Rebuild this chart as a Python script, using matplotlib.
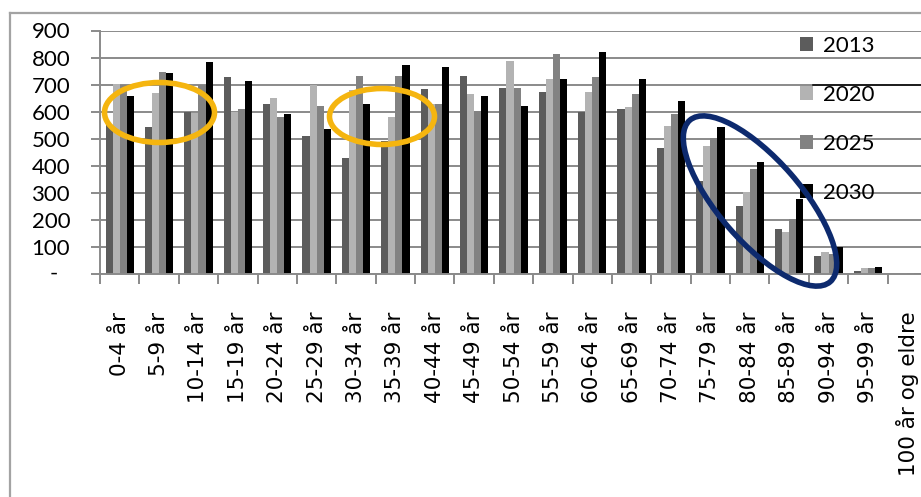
import matplotlib
matplotlib.use("Agg")
import matplotlib.pyplot as plt
from matplotlib.patches import Ellipse
from matplotlib.lines import Line2D
from matplotlib.transforms import Affine2D
import numpy as np

categories = ["0-4 år", "5-9 år", "10-14 år", "15-19 år", "20-24 år", "25-29 år",
              "30-34 år", "35-39 år", "40-44 år", "45-49 år", "50-54 år", "55-59 år",
              "60-64 år", "65-69 år", "70-74 år", "75-79 år", "80-84 år", "85-89 år",
              "90-94 år", "95-99 år", "100 år og eldre"]
v2013 = [550, 543, 600, 727, 627, 511, 428, 490, 683, 733, 689, 672, 600, 610, 467, 344, 251, 165, 67, 12, 1]
v2020 = [702, 668, 595, 600, 652, 699, 680, 579, 630, 665, 787, 720, 672, 619, 548, 473, 304, 157, 82, 21, 2]
v2025 = [700, 748, 699, 610, 582, 621, 730, 730, 628, 604, 689, 813, 727, 665, 590, 503, 389, 205, 74, 21, 2]
v2030 = [658, 742, 783, 713, 590, 536, 630, 773, 766, 659, 621, 721, 820, 720, 641, 544, 414, 276, 100, 25, 3]
series_names = ["2013", "2020", "2025", "2030"]
yticks = [0, 100, 200, 300, 400, 500, 600, 700, 800, 900]
ylabels = ["-", "100", "200", "300", "400", "500", "600", "700", "800", "900"]

W, H = 921, 497
fig = plt.figure(figsize=(W / 100, H / 100), dpi=100)
fig.patch.set_facecolor("white")
px = Affine2D().scale(1 / W, -1 / H).translate(0, 1) + fig.transFigure

ax = fig.add_axes([100 / W, 1 - 274 / H, 827 / W, (274 - 30.5) / H])
x = np.arange(len(categories))
bw = 0.18
colors = ["#5c5c5c", "#b3b3b3", "#828282", "#000000"]
handles = []
for i, (name, vals, col) in enumerate(zip(series_names, [v2013, v2020, v2025, v2030], colors)):
    b = ax.bar(x + (i - 1.5) * bw, vals, width=bw, color=col, label=name, zorder=2, linewidth=0)
    handles.append(b)

gc = "#8a8a8a"
ax.set_xlim(-0.5, len(categories) - 0.5)
ax.set_ylim(0, 900)
ax.set_yticks(yticks)
ax.set_yticklabels([""] + ylabels[1:], fontfamily="Lato", fontsize=16)
ax.text(-46 / 827, 0, ylabels[0], transform=ax.get_yaxis_transform(), ha="center", va="center",
        fontfamily="Lato", fontsize=16)
ax.yaxis.grid(True, color=gc, lw=1.4)
ax.set_axisbelow(True)
ax.set_xticks(x)
ax.set_xticklabels(categories, rotation=90, fontsize=15.5, fontfamily="DejaVu Sans")
ax.tick_params(axis="x", which="major", length=0, pad=27)
ax.set_xticks(np.arange(len(categories) + 1) - 0.5, minor=True)
ax.tick_params(axis="x", which="minor", length=7, color=gc, width=1.4, direction="out")
ax.tick_params(axis="y", length=6.5, color=gc, width=1.4, pad=15)
for s in ["top", "right"]:
    ax.spines[s].set_visible(False)
for s in ["left", "bottom"]:
    ax.spines[s].set_color(gc)
    ax.spines[s].set_linewidth(1.4)

leg = ax.legend(handles, series_names, loc="upper left", bbox_to_anchor=(800 / W, 1 - 36 / H),
                bbox_transform=fig.transFigure, frameon=False,
                prop={"family": "Lato", "size": 16}, handlelength=0.6, handleheight=0.6,
                handletextpad=0.45, labelspacing=1.3, borderpad=0, borderaxespad=0)

# outer chart frame
fig.add_artist(Line2D([10, W], [13, 13], transform=px, color="#a3a3a3", lw=1.6))
fig.add_artist(Line2D([10, 10], [13, H], transform=px, color="#a3a3a3", lw=1.6))
# stray line by legend
fig.add_artist(Line2D([813, W], [84.5, 84.5], transform=px, color="black", lw=1.1, zorder=5))

# annotation ellipses
fig.add_artist(Ellipse((159.5, 112.5), 110, 60, angle=0, transform=px, fill=False,
                       edgecolor="#f5b50f", lw=4, zorder=4))
fig.add_artist(Ellipse((382, 116.5), 105, 56, angle=0, transform=px, fill=False,
                       edgecolor="#f5b50f", lw=4, zorder=4))
fig.add_artist(Ellipse((760, 201), 214, 82, angle=49, transform=px, fill=False,
                       edgecolor="#0d2a6e", lw=4, zorder=4))

fig.savefig("out.png", dpi=100)
